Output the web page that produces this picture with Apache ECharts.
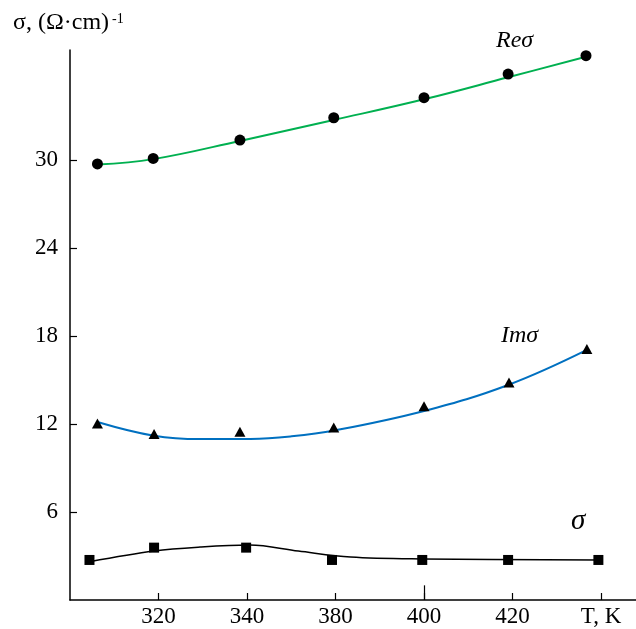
<!DOCTYPE html>
<html><head><meta charset="utf-8">
<script src="https://cdn.jsdelivr.net/npm/echarts@6/dist/echarts.min.js"></script>
<style>html,body{margin:0;padding:0;background:#fff}#c{width:636px;height:629px}</style>
</head><body><div id="c"></div>
<script>
// x positions are in tick-index units: 0 -> "320", 1 -> "340", 2 -> "380", 3 -> "400", 4 -> "420", 5 -> "T, K"
const xTickLabels = ["320", "340", "380", "400", "420", "T, K"];
const xTickValues = [0, 1, 2, 3, 4, 5];
const yTickValues = [6, 12, 18, 24, 30];

const reX = [-0.69, -0.06, 0.92, 1.98, 3.0, 3.95, 4.83];
const reY = [29.73, 30.11, 31.36, 32.88, 34.25, 35.86, 37.11];
const reFitX = [-0.69, -0.06, 0.92, 1.98, 3.0, 3.95, 4.83];
const reFitY = [29.69, 30.06, 31.3, 32.73, 34.14, 35.64, 37.04];

const imX = [-0.69, -0.05, 0.92, 1.98, 3.0, 3.96, 4.84];
const imY = [12.03, 11.32, 11.48, 11.76, 13.21, 14.83, 17.11];
const imFitX = [-0.69, -0.05, 0.47, 1.04, 1.49, 1.99, 3.0, 3.95, 4.84];
const imFitY = [12.14, 11.2, 10.97, 10.98, 11.15, 11.56, 12.89, 14.66, 17.05];

const sgX = [-0.78, -0.05, 0.99, 1.96, 2.98, 3.95, 4.97];
const sgY = [2.73, 3.57, 3.57, 2.73, 2.73, 2.73, 2.73];
const sgFitX = [-0.78, -0.05, 0.47, 1.03, 1.58, 2.17, 2.98, 4.97];
const sgFitY = [2.61, 3.34, 3.61, 3.75, 3.34, 2.93, 2.80, 2.73];

const zip = (xs, ys) => xs.map((x, i) => [x, ys[i]]);
const SERIF = '"Liberation Serif", "Times New Roman", serif';

const chart = echarts.init(document.getElementById('c'), null, {renderer: 'canvas'});
chart.setOption({
  animation: false,
  backgroundColor: '#fff',
  grid: {left: 70, right: 0, top: 50, bottom: 29, containLabel: false},
  xAxis: {
    type: 'value', min: -1, max: 5.395,
    axisLine: {show: true, onZero: false, lineStyle: {color: '#000', width: 1.5}},
    axisTick: {show: true, inside: true, length: 7, customValues: xTickValues, lineStyle: {color: '#000', width: 1.2}},
    axisLabel: {customValues: xTickValues, formatter: v => xTickLabels[Math.round(v)] || '',
      fontFamily: SERIF, fontSize: 23, color: '#000', margin: 5},
    splitLine: {show: false}
  },
  yAxis: {
    type: 'value', min: 0, max: 37.5,
    axisLine: {show: true, onZero: false, lineStyle: {color: '#000', width: 1.5}},
    axisTick: {show: true, inside: true, length: 7, customValues: yTickValues, lineStyle: {color: '#000', width: 1.2}},
    axisLabel: {customValues: yTickValues, fontFamily: SERIF, fontSize: 23, color: '#000', margin: 12},
    splitLine: {show: false}
  },
  graphic: [
    {type: 'text', left: 13, top: 11, style: {text: 'σ, (Ω·cm)', font: '24px ' + SERIF, fill: '#000'}},
    {type: 'text', left: 112, top: 12, style: {text: '-1', font: '14px ' + SERIF, fill: '#000'}},
    {type: 'text', left: 496, top: 29, style: {text: 'Reσ', font: 'italic 24px ' + SERIF, fill: '#000'}},
    {type: 'text', left: 501, top: 324, style: {text: 'Imσ', font: 'italic 24px ' + SERIF, fill: '#000'}},
    {type: 'text', left: 571, top: 507, style: {text: 'σ', font: 'italic 29px ' + SERIF, fill: '#000'}}
  ],
  series: [
    {type: 'line', data: zip(reFitX, reFitY), smooth: 0.4, showSymbol: false,
      lineStyle: {color: '#00b050', width: 2}, z: 2},
    {type: 'line', data: zip(imFitX, imFitY), smooth: 0.4, showSymbol: false,
      lineStyle: {color: '#0070c0', width: 2}, z: 2},
    {type: 'line', data: zip(sgFitX, sgFitY), smooth: 0.35, showSymbol: false,
      lineStyle: {color: '#000', width: 1.5}, z: 2,
      markLine: {silent: true, symbol: 'none', label: {show: false},
        lineStyle: {color: '#000', width: 1.2, type: 'solid'},
        data: [[{coord: [3, 0]}, {coord: [3, 1]}]]}},
    {type: 'scatter', data: zip(reX, reY), symbol: 'circle', symbolSize: 11, itemStyle: {color: '#000', opacity: 1}, z: 3},
    {type: 'scatter', data: zip(imX, imY), symbol: 'triangle', symbolSize: [11, 10], itemStyle: {color: '#000', opacity: 1}, z: 3},
    {type: 'scatter', data: zip(sgX, sgY), symbol: 'rect', symbolSize: 10, itemStyle: {color: '#000', opacity: 1}, z: 3}
  ]
});
</script>
</body></html>
